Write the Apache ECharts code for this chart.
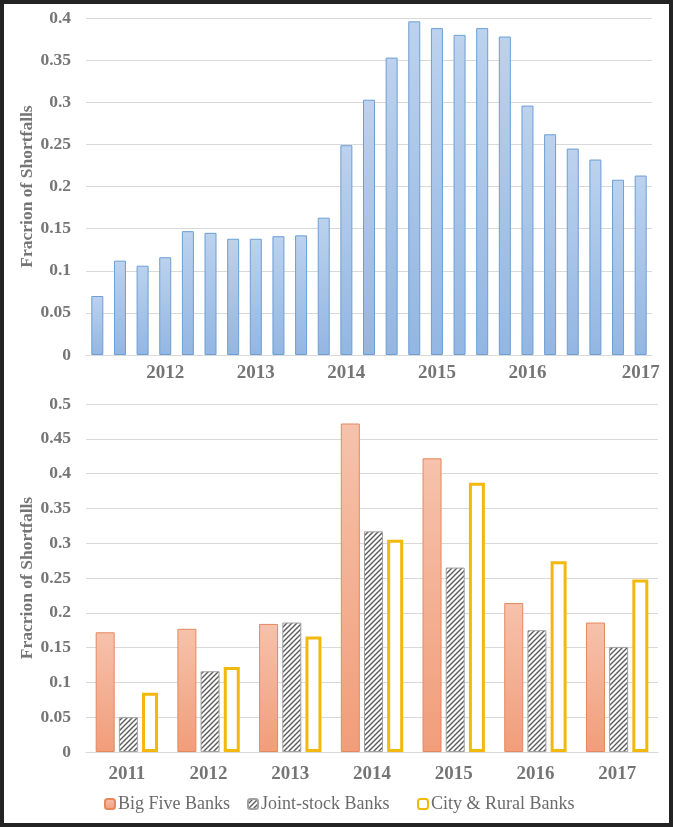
<!DOCTYPE html>
<html><head><meta charset="utf-8">
<script src="https://cdn.jsdelivr.net/npm/echarts@6/dist/echarts.min.js"></script>
<style>
html,body{margin:0;padding:0;background:#232323;width:673px;height:827px;overflow:hidden}
#frame{position:absolute;left:4px;top:4px;width:665px;height:819px;background:#fff}
#chart{position:absolute;left:0;top:0;width:673px;height:827px}
</style></head>
<body><div id="frame"></div><div id="chart"></div>
<script>
// ---- data ----
const topCategories = ['2011Q2','2011Q3','2011Q4','2012Q1','2012Q2','2012Q3','2012Q4','2013Q1','2013Q2','2013Q3','2013Q4','2014Q1','2014Q2','2014Q3','2014Q4','2015Q1','2015Q2','2015Q3','2015Q4','2016Q1','2016Q2','2016Q3','2016Q4','2017Q1','2017Q2'];
const topTickLabels = ['','','','2012','','','','2013','','','','2014','','','','2015','','','','2016','','','','','2017'];
const topValues = [0.070,0.112,0.106,0.116,0.147,0.145,0.138,0.138,0.141,0.142,0.163,0.249,0.303,0.353,0.396,0.388,0.380,0.388,0.378,0.296,0.262,0.245,0.232,0.208,0.213];

const years = ['2011','2012','2013','2014','2015','2016','2017'];
const bigFive = [0.172,0.177,0.184,0.472,0.422,0.214,0.186];
const jointStock = [0.050,0.116,0.186,0.317,0.265,0.175,0.151];
const cityRural = [0.085,0.122,0.166,0.305,0.387,0.274,0.248];
const seriesNames = ['Big Five Banks','Joint-stock Banks','City & Rural Banks'];

// ---- styles ----
const FONT = 'Liberation Serif';
const GREY = '#757575';
function hatch(){
  const s = 5, c = document.createElement('canvas');
  c.width = s; c.height = s;
  const g = c.getContext('2d');
  g.fillStyle = '#fff'; g.fillRect(0,0,s,s);
  g.strokeStyle = '#5a5a5a'; g.lineWidth = 1.4;
  g.beginPath();
  g.moveTo(0,s); g.lineTo(s,0);
  g.moveTo(-1,1); g.lineTo(1,-1);
  g.moveTo(s-1,s+1); g.lineTo(s+1,s-1);
  g.stroke();
  return c;
}
const grad = (a,b)=>new echarts.graphic.LinearGradient(0,0,0,1,[{offset:0,color:a},{offset:1,color:b}]);

const chart = echarts.init(document.getElementById('chart'), null, {renderer:'canvas'});
const yAxisCommon = {
  type:'value', min:0, interval:0.05,
  axisLine:{show:false}, axisTick:{show:false},
  splitLine:{lineStyle:{color:'#d9d9d9', width:1}},
  axisLabel:{color:GREY, fontFamily:FONT, fontWeight:'bold', fontSize:17.5, margin:15},
  name:'Fracrion of Shortfalls', nameLocation:'middle', nameRotate:90, nameGap:50, nameMoveOverlap:false,
  nameTextStyle:{color:GREY, fontFamily:FONT, fontWeight:'bold', fontSize:17.5}
};
const xAxisCommon = {
  type:'category',
  axisLine:{lineStyle:{color:'#d9d9d9'}}, axisTick:{show:false},
  axisLabel:{color:GREY, fontFamily:FONT, fontWeight:'bold', fontSize:19}
};
const legendLefts = [104, 247, 417];
const legends = seriesNames.map((n,i)=>({
  bottom:14, left:legendLefts[i], padding:0, itemWidth:10, itemHeight:10,
  data:[n],
  textStyle:{color:'#6b6b6b', fontFamily:FONT, fontSize:18, padding:[0,0,0,-2]}
}));
chart.setOption({
  animation:false,
  grid:[
    {left:86, top:18, width:566, height:337},
    {left:86, top:404, width:572, height:348}
  ],
  xAxis:[
    Object.assign({}, xAxisCommon, {gridIndex:0, data:topCategories,
      axisLabel:Object.assign({}, xAxisCommon.axisLabel, {interval:0, margin:9, formatter:(v,i)=>topTickLabels[i]})}),
    Object.assign({}, xAxisCommon, {gridIndex:1, data:years,
      axisLabel:Object.assign({}, xAxisCommon.axisLabel, {margin:13})})
  ],
  yAxis:[
    Object.assign({}, yAxisCommon, {gridIndex:0, max:0.4}),
    Object.assign({}, yAxisCommon, {gridIndex:1, max:0.5})
  ],
  legend:legends,
  series:[
    {type:'bar', xAxisIndex:0, yAxisIndex:0, data:topValues, barWidth:12,
      itemStyle:{color:grad('#bcd2ee','#93b6e2'), borderColor:'#6c9fd3', borderWidth:1}},
    {type:'bar', name:seriesNames[0], xAxisIndex:1, yAxisIndex:1, data:bigFive, barWidth:19, barGap:'22%',
      itemStyle:{color:grad('#f6c2ab','#f19d7a'), borderColor:'#e5885e', borderWidth:1}},
    {type:'bar', name:seriesNames[1], xAxisIndex:1, yAxisIndex:1, data:jointStock, barWidth:19, barGap:'22%',
      itemStyle:{color:{image:hatch(), repeat:'repeat'}, borderColor:'#a0a0a0', borderWidth:1}},
    {type:'bar', name:seriesNames[2], xAxisIndex:1, yAxisIndex:1, data:cityRural, barWidth:16, barGap:'22%',
      itemStyle:{color:'#fff', borderColor:'#f2b80c', borderWidth:3}}
  ]
});
</script></body></html>
